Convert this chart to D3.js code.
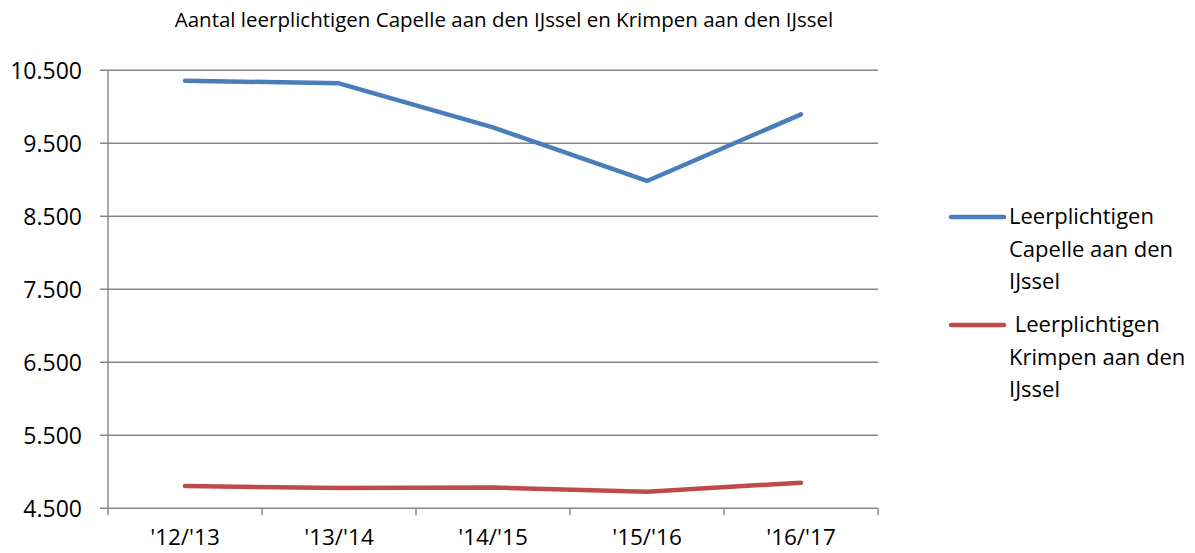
<!DOCTYPE html>
<html>
<head>
<meta charset="utf-8">
<script src="https://cdn.jsdelivr.net/npm/d3@7"></script>
<style>
  body { margin: 0; background: #fff; }
  text { font-family: "Open Sans", sans-serif; fill: #000; }
</style>
</head>
<body>
<script>
// chart data
var years = ["'12/'13", "'13/'14", "'14/'15", "'15/'16", "'16/'17"];
var capelle = [10358, 10322, 9717, 8984, 9897];
var krimpen = [4805, 4778, 4785, 4727, 4851];
var yTicks = [4500, 5500, 6500, 7500, 8500, 9500, 10500];
var seriesColors = ["#4a7ebb", "#be4b48"];

var width = 1195;
var height = 553;

var svg = d3.select('body')
  .append('svg')
    .attr('width', width)
    .attr('height', height);

var x = d3.scaleBand()
    .domain(years)
    .range([108, 878]);

var y = d3.scaleLinear()
    .domain([4500, 10500])
    .range([508.3, 70.3]);

// gridlines
svg.append('g')
  .selectAll('line')
  .data(yTicks)
  .join('line')
    .attr('x1', 100)
    .attr('x2', 878)
    .attr('y1', d => y(d))
    .attr('y2', d => y(d))
    .attr('stroke', '#868686')
    .attr('stroke-width', 1.4);

var fmt = d3.format(',');
svg.append('g')
  .selectAll('text')
  .data(yTicks)
  .join('text')
    .attr('x', 82)
    .attr('y', d => y(d))
    .attr('dy', '0.36em')
    .attr('text-anchor', 'end')
    .style('font-size', '23px')
    .text(d => fmt(d).replace(',', '.'));

// y axis line
svg.append('line')
  .attr('x1', 108).attr('x2', 108)
  .attr('y1', y(10500)).attr('y2', y(4500))
  .attr('stroke', '#868686')
  .attr('stroke-width', 1.4);

// x axis ticks at band boundaries
var xTickPos = years.map(d => x(d)).concat([x.range()[1]]);
svg.append('g')
  .selectAll('line')
  .data(xTickPos)
  .join('line')
    .attr('x1', d => d).attr('x2', d => d)
    .attr('y1', y(4500)).attr('y2', y(4500) + 7)
    .attr('stroke', '#868686')
    .attr('stroke-width', 1.4);

svg.append('g')
  .selectAll('text')
  .data(years)
  .join('text')
    .attr('x', d => x(d) + x.bandwidth() / 2)
    .attr('y', 545)
    .attr('text-anchor', 'middle')
    .style('font-size', '22.5px')
    .text(d => d);

var line = d3.line()
    .x((d, i) => x(years[i]) + x.bandwidth() / 2)
    .y(d => y(d));

[capelle, krimpen].forEach(function(vals, i) {
  svg.append('path')
    .datum(vals)
    .attr('d', line)
    .attr('fill', 'none')
    .attr('stroke', seriesColors[i])
    .attr('stroke-width', 4.5)
    .attr('stroke-linecap', 'round')
    .attr('stroke-linejoin', 'round');
});

// title
svg.append('text')
  .attr('x', 504)
  .attr('y', 27)
  .attr('text-anchor', 'middle')
  .style('font-size', '20.5px')
  .text('Aantal leerplichtigen Capelle aan den IJssel en Krimpen aan den IJssel');

// legend
var legendLines = [
  ['Leerplichtigen', 'Capelle aan den', 'IJssel'],
  ['\u00a0Leerplichtigen', 'Krimpen aan den', 'IJssel']
];
var legendY = [217, 325];
legendLines.forEach(function(rows, i) {
  var g = svg.append('g');
  g.append('line')
    .attr('x1', 951).attr('x2', 1004)
    .attr('y1', legendY[i]).attr('y2', legendY[i])
    .attr('stroke', seriesColors[i])
    .attr('stroke-width', 4.5)
    .attr('stroke-linecap', 'round');
  g.selectAll('text')
    .data(rows)
    .join('text')
      .attr('x', 1009)
      .attr('y', (d, j) => legendY[i] + 7 + j * 32.5)
      .style('font-size', '22px')
      .text(d => d);
});
</script>
</body>
</html>
